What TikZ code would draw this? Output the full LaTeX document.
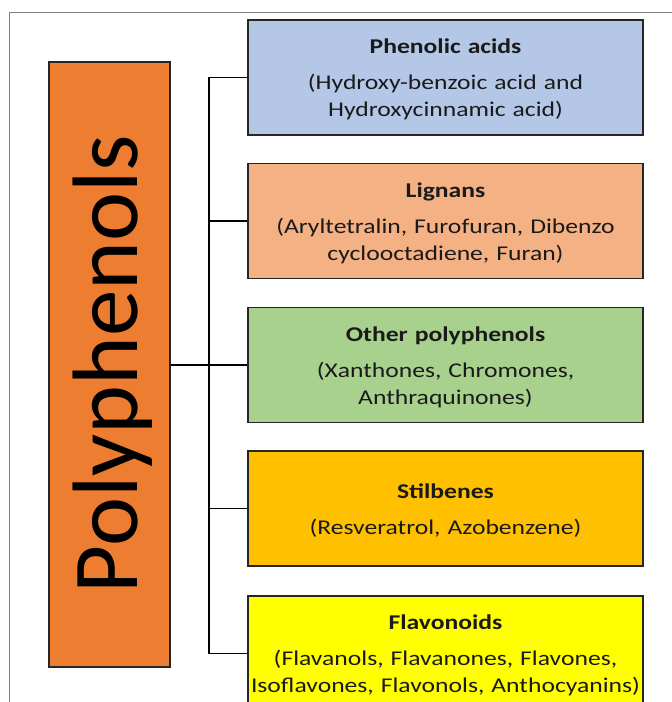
\documentclass[tikz,border=0pt]{standalone}
\usepackage{fontspec}
\setmainfont{Carlito}
\newfontfamily\widefont[FakeStretch=1.22]{Carlito}
\definecolor{cblue}{HTML}{B4C7E7}
\definecolor{csalmon}{HTML}{F4B183}
\definecolor{cgreen}{HTML}{A9D18E}
\definecolor{cgold}{HTML}{FFC000}
\definecolor{cyellow}{HTML}{FFFF00}
\definecolor{corange}{HTML}{ED7D31}
\definecolor{ctext}{HTML}{1A1A1A}
\tikzset{
  catbox/.style={draw=black!85, line width=1.3pt, minimum width=395pt, minimum height=115pt,
    text width=392pt, align=center, inner sep=0pt, font=\widefont\fontsize{21}{27}\selectfont, text=ctext},
  conn/.style={draw=black, line width=1.1pt},
}
\newcommand{\cattitle}[1]{\rule{0pt}{19pt}{\bfseries #1}\\[9pt]}
\begin{document}
\begin{tikzpicture}[x=1pt,y=1pt]
\path[use as bounding box, clip] (0,0) rectangle (672,702);
\fill[white] (0,0) rectangle (672,702);
\draw[gray, line width=1pt] (672,689) -- (9,689) -- (9,0);
\node[draw=black!85, line width=1.3pt, fill=corange, minimum width=121pt, minimum height=605pt, inner sep=0pt] (poly) at (109.5,337.5) {};
\node[rotate=90, anchor=base, inner sep=0pt, font=\fontsize{93}{93}\selectfont, text=black] (polytxt) at (137,338) {Polyphenols};
\node[catbox, fill=cblue] (pa) at (445.5,624.5) {\cattitle{Phenolic acids}(Hydroxy-benzoic acid and\\Hydroxycinnamic acid)};
\node[catbox, fill=csalmon] (li) at (445.5,481) {\cattitle{Lignans}(Aryltetralin, Furofuran, Dibenzo\\cyclooctadiene, Furan)};
\node[catbox, fill=cgreen] (op) at (445.5,337) {\cattitle{Other polyphenols}(Xanthones, Chromones,\\Anthraquinones)};
\node[catbox, fill=cgold] (st) at (445.5,193.5) {\cattitle{Stilbenes}(Resveratrol, Azobenzene)};
\node[catbox, fill=cyellow] (fl) at (445.5,48.5) {\cattitle{Flavonoids}(Flavanols, Flavanones, Flavones,\\Isoflavones, Flavonols, Anthocyanins)};
\coordinate (bus) at (209,0);
\draw[conn] (pa.west) -- (pa.west -| bus) -- (fl.west -| bus) -- (fl.west);
\draw[conn] (li.west) -- (li.west -| bus);
\draw[conn] (op.west) -- (op.west -| bus);
\draw[conn] (st.west) -- (st.west -| bus);
\draw[conn] (poly.east |- op.west) -- (op.west -| bus);
\end{tikzpicture}
\end{document}
